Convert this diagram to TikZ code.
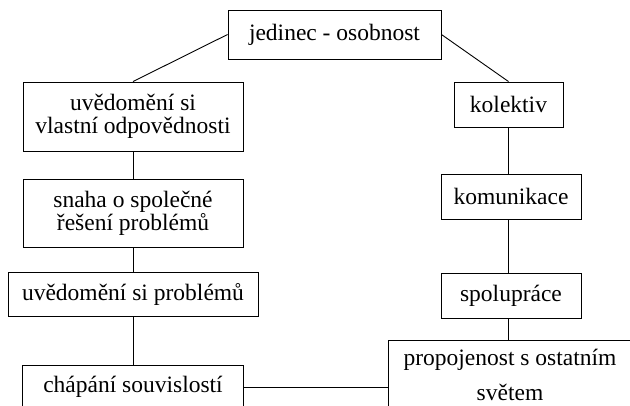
\documentclass[tikz,border=0pt]{standalone}
\usepackage{fontspec}
\setmainfont{Liberation Serif}
\usepackage{tikz}

\begin{document}
\begin{tikzpicture}[x=1pt,y=-1pt,line width=0.9pt,
		box/.style={draw,inner sep=0pt,align=center,font=\fontsize{23.5}{23}\selectfont}]
			\useasboundingbox (0,0) rectangle (630,406);
			% horni uzel
			\node[box,minimum width=213,minimum height=49] (jed) at (334.5,34.5) {jedinec - osobnost};
			
			% leva vetev
			\node[box,minimum width=220,minimum height=69] (uv1) at (133,116.5) {uvědomění si\\vlastní odpovědnosti};
			\node[box,minimum width=220,minimum height=68] (sn) at (133,213) {snaha o společné\\řešení problémů};
			\node[box,minimum width=250,minimum height=44] (uvp) at (133,294) {uvědomění si problémů};
			\node[box,minimum width=221,minimum height=44] (ch) at (133,387) {chápání souvislostí};
			
			% prava vetev
			\node[box,minimum width=109,minimum height=45] (kol) at (508.5,104.5) {kolektiv};
			\node[box,minimum width=140,minimum height=45] (kom) at (511,196.5) {komunikace};
			\node[box,minimum width=140,minimum height=45] (spo) at (511,295.5) {spolupráce};
			\node[box,minimum width=244,minimum height=69] (prop) at (510,374.5) {propojenost s ostatním\\[12pt]světem};
			
			\draw (jed.west)--(uv1.north);
			\draw (jed.east)--(kol.north);
			\draw (uv1.south)--(sn.north);
			\draw (sn.south)--(uvp.north);
			\draw (uvp.south)--(ch.north);
			\draw (kol.south)--(kol.south |- kom.north);
			\draw (kol.south |- kom.south)--(kol.south |- spo.north);
			\draw (kol.south |- spo.south)--(kol.south |- prop.north);
			\draw (ch.east)--(ch.east -| prop.west);
			
		\end{tikzpicture}
\end{document}
